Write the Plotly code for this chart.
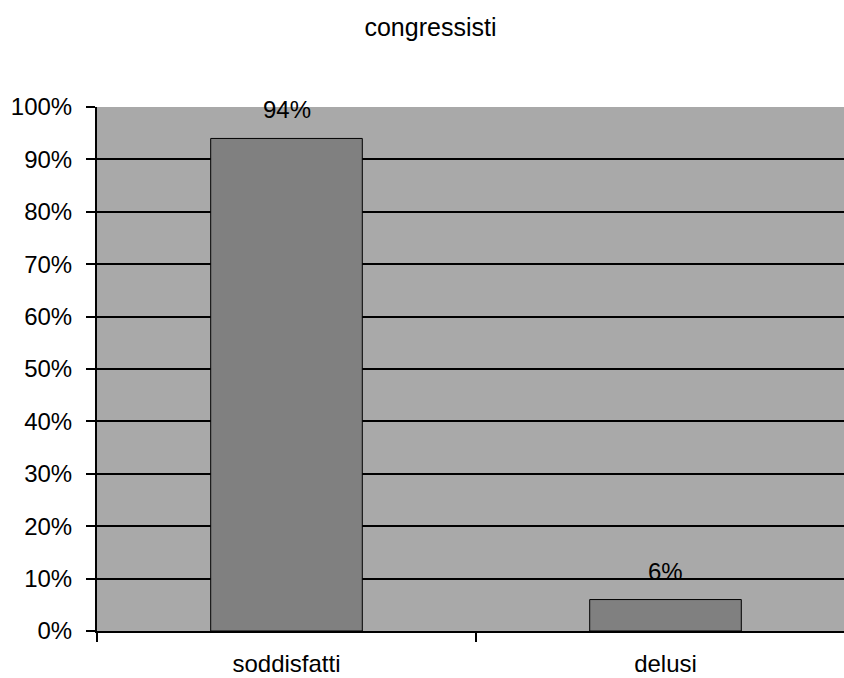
import plotly.graph_objects as go

categories = ["soddisfatti", "delusi"]
values = [0.94, 0.06]
tick_values = [i / 10 for i in range(11)]
tick_labels = [f"{i * 10}%" for i in range(11)]

font_family = "Liberation Sans, Arial, sans-serif"

fig = go.Figure()
fig.add_trace(go.Bar(
    x=categories,
    y=values,
    width=0.4,
    marker=dict(color="#808080", line=dict(color="#000000", width=1)),
    hoverinfo="skip",
))

# value labels above each bar
for cat, val in zip(categories, values):
    fig.add_annotation(
        x=cat, y=val, text=f"{round(val * 100)}%",
        showarrow=False, yanchor="bottom", yshift=13,
        font=dict(family=font_family, size=24, color="#000000"),
    )

fig.update_layout(
    width=844, height=678,
    margin=dict(l=97, r=0, t=107, b=47, autoexpand=False),
    paper_bgcolor="#ffffff",
    plot_bgcolor="#a9a9a9",
    showlegend=False,
    title=dict(
        text="congressisti", x=0.51, xref="container", xanchor="center",
        y=1 - 27 / 678, yref="container", yanchor="middle",
        font=dict(family=font_family, size=25, color="#000000"),
    ),
    font=dict(family=font_family, color="#000000"),
)

fig.update_xaxes(
    type="category",
    range=[-0.5, -0.5 + 2 * (844 - 97) / 758],
    automargin=False,
    showline=True, linecolor="#000000", linewidth=2,
    ticks="outside", tickson="boundaries", ticklen=9, tickwidth=1.5,
    tickcolor="#000000",
    showgrid=False,
    tickfont=dict(family=font_family, size=24, color="#000000"),
    ticklabelstandoff=10,
)

fig.update_yaxes(
    range=[0, 1],
    automargin=False,
    tickvals=tick_values, ticktext=tick_labels,
    showline=True, linecolor="#000000", linewidth=2,
    ticks="outside", ticklen=9, tickwidth=1.5, tickcolor="#000000",
    showgrid=True, gridcolor="#000000", gridwidth=1.5,
    zeroline=False,
    tickfont=dict(family=font_family, size=24, color="#000000"),
    ticklabelstandoff=9,
)

fig.write_html("out.html")
